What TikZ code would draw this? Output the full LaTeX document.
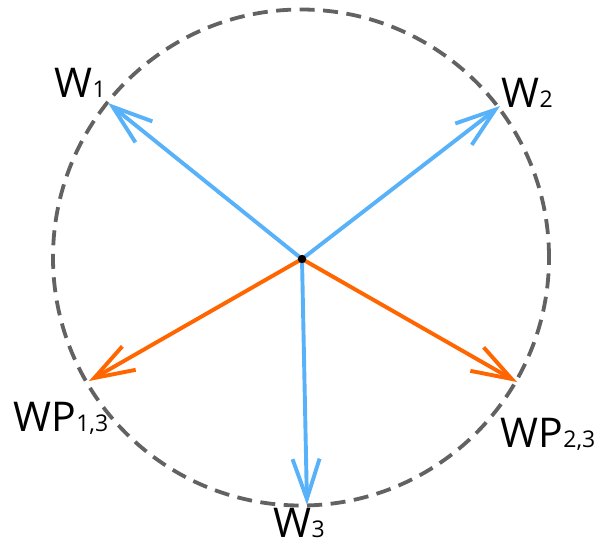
\documentclass[tikz,border=0pt]{standalone}
\usepackage{fontspec}
\setmainfont{Open Sans}
\newfontfamily\labfont{Open Sans}
\usetikzlibrary{arrows.meta}
\definecolor{vblue}{HTML}{58B2FA}
\definecolor{vorange}{HTML}{FF6600}
\definecolor{cgray}{HTML}{626262}
\newcommand{\lbl}[2]{\fontsize{41}{41}\selectfont #1\kern0.5pt{\fontsize{23}{23}\selectfont #2}}
\tikzset{
  vec/.style={line width=3.9pt, -{Straight Barb[length=40pt,width=27pt,line width=3.9pt]}},
  bluevec/.style={vec, draw=vblue},
  orangevec/.style={vec, draw=vorange},
  lab/.style={inner sep=0pt, anchor=base west, font=\labfont},
  circ/.style={draw=cgray, line width=3.8pt, dash pattern=on 15pt off 8.5pt},
}
\begin{document}
\begin{tikzpicture}[x=1pt,y=-1pt]
\useasboundingbox (0,0) rectangle (601,546);
\fill[white] (0,0) rectangle (601,546);
\draw[circ] (301,257.5) circle (248pt);
\coordinate (o) at (302,259);
\coordinate (t1) at (108,103);
\coordinate (t2) at (500,106);
\coordinate (t3) at (307,505);
\coordinate (t4) at (89,381);
\coordinate (t5) at (517,382);
\draw[orangevec] (o) -- (t4);
\draw[orangevec] (o) -- (t5);
\draw[bluevec] (o) -- (t1);
\draw[bluevec] (o) -- (t2);
\draw[bluevec] (o) -- (t3);
\fill[black] (o) circle (4.2pt);
\node[lab] (l1) at (54,97) {\lbl{W}{1}};
\node[lab] (l2) at (501,107) {\lbl{W}{2}};
\node[lab] (l3) at (273,537) {\lbl{W}{3}};
\node[lab] (l4) at (13,431) {\lbl{WP}{1,3}};
\node[lab] (l5) at (500,447) {\lbl{WP}{2,3}};
\end{tikzpicture}
\end{document}
